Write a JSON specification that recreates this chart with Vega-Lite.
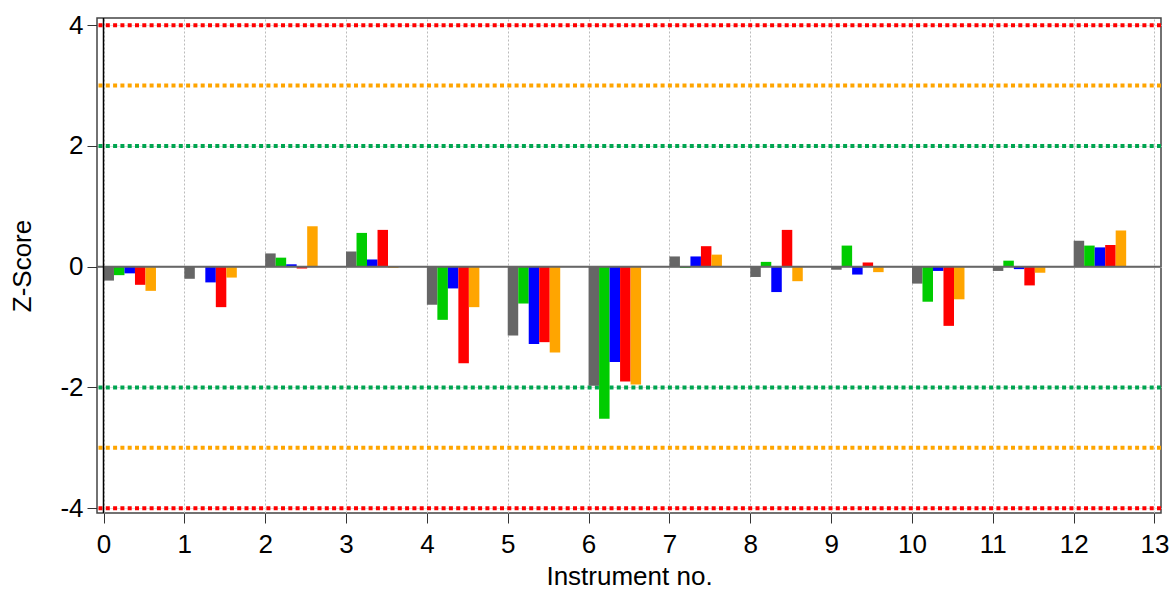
{
  "$schema": "https://vega.github.io/schema/vega-lite/v6.json",
  "width": 1064,
  "height": 495,
  "autosize": {"type": "none"},
  "padding": {"left": 97, "top": 18, "right": 9, "bottom": 77},
  "background": "white",
  "config": {
    "font": "Liberation Sans",
    "view": {"stroke": "#444", "strokeWidth": 1.5}
  },
  "datasets": {
    "scores": [
      {"inst": 0, "s": "s1", "z": -0.23}, {"inst": 0, "s": "s2", "z": -0.14}, {"inst": 0, "s": "s3", "z": -0.11}, {"inst": 0, "s": "s4", "z": -0.30}, {"inst": 0, "s": "s5", "z": -0.40},
      {"inst": 1, "s": "s1", "z": -0.20}, {"inst": 1, "s": "s2", "z": 0.0}, {"inst": 1, "s": "s3", "z": -0.26}, {"inst": 1, "s": "s4", "z": -0.67}, {"inst": 1, "s": "s5", "z": -0.18},
      {"inst": 2, "s": "s1", "z": 0.22}, {"inst": 2, "s": "s2", "z": 0.15}, {"inst": 2, "s": "s3", "z": 0.04}, {"inst": 2, "s": "s4", "z": -0.03}, {"inst": 2, "s": "s5", "z": 0.67},
      {"inst": 3, "s": "s1", "z": 0.25}, {"inst": 3, "s": "s2", "z": 0.56}, {"inst": 3, "s": "s3", "z": 0.12}, {"inst": 3, "s": "s4", "z": 0.61}, {"inst": 3, "s": "s5", "z": -0.02},
      {"inst": 4, "s": "s1", "z": -0.63}, {"inst": 4, "s": "s2", "z": -0.88}, {"inst": 4, "s": "s3", "z": -0.36}, {"inst": 4, "s": "s4", "z": -1.60}, {"inst": 4, "s": "s5", "z": -0.67},
      {"inst": 5, "s": "s1", "z": -1.14}, {"inst": 5, "s": "s2", "z": -0.61}, {"inst": 5, "s": "s3", "z": -1.28}, {"inst": 5, "s": "s4", "z": -1.25}, {"inst": 5, "s": "s5", "z": -1.42},
      {"inst": 6, "s": "s1", "z": -1.97}, {"inst": 6, "s": "s2", "z": -2.52}, {"inst": 6, "s": "s3", "z": -1.58}, {"inst": 6, "s": "s4", "z": -1.90}, {"inst": 6, "s": "s5", "z": -1.95},
      {"inst": 7, "s": "s1", "z": 0.17}, {"inst": 7, "s": "s2", "z": -0.02}, {"inst": 7, "s": "s3", "z": 0.17}, {"inst": 7, "s": "s4", "z": 0.34}, {"inst": 7, "s": "s5", "z": 0.20},
      {"inst": 8, "s": "s1", "z": -0.17}, {"inst": 8, "s": "s2", "z": 0.08}, {"inst": 8, "s": "s3", "z": -0.42}, {"inst": 8, "s": "s4", "z": 0.61}, {"inst": 8, "s": "s5", "z": -0.24},
      {"inst": 9, "s": "s1", "z": -0.05}, {"inst": 9, "s": "s2", "z": 0.35}, {"inst": 9, "s": "s3", "z": -0.13}, {"inst": 9, "s": "s4", "z": 0.07}, {"inst": 9, "s": "s5", "z": -0.09},
      {"inst": 10, "s": "s1", "z": -0.28}, {"inst": 10, "s": "s2", "z": -0.58}, {"inst": 10, "s": "s3", "z": -0.07}, {"inst": 10, "s": "s4", "z": -0.98}, {"inst": 10, "s": "s5", "z": -0.54},
      {"inst": 11, "s": "s1", "z": -0.07}, {"inst": 11, "s": "s2", "z": 0.10}, {"inst": 11, "s": "s3", "z": -0.04}, {"inst": 11, "s": "s4", "z": -0.31}, {"inst": 11, "s": "s5", "z": -0.10},
      {"inst": 12, "s": "s1", "z": 0.43}, {"inst": 12, "s": "s2", "z": 0.35}, {"inst": 12, "s": "s3", "z": 0.32}, {"inst": 12, "s": "s4", "z": 0.36}, {"inst": 12, "s": "s5", "z": 0.60}
    ],
    "lim4": [{"z": 4}, {"z": -4}],
    "lim3": [{"z": 3}, {"z": -3}],
    "lim2": [{"z": 2}, {"z": -2}]
  },
  "layer": [
    {
      "data": {"name": "lim2"},
      "mark": {"type": "rule", "color": "#00A550", "strokeWidth": 4, "strokeDash": [4, 3.3], "strokeCap": "butt"},
      "encoding": {
        "y": {
          "field": "z", "type": "quantitative",
          "scale": {"domain": [-4.08, 4.12], "nice": false, "zero": false},
          "axis": {
            "title": "Z-Score",
            "values": [-4, -2, 0, 2, 4],
            "labelExpr": "'' + datum.value",
            "grid": true, "gridColor": "#dddddd", "gridWidth": 1,
            "domain": false,
            "tickSize": 10, "tickColor": "#333333", "tickWidth": 1,
            "labelFontSize": 26, "labelColor": "black", "labelPadding": 4,
            "titleFontSize": 26, "titleFontWeight": "normal", "titleColor": "black",
            "titleX": -75, "titleY": 247.5, "titleAngle": 270, "titleAlign": "center", "titleBaseline": "middle"
          }
        }
      }
    },
    {
      "data": {"name": "lim3"},
      "mark": {"type": "rule", "color": "#FFA500", "strokeWidth": 4, "strokeDash": [4, 3.3], "strokeCap": "butt"},
      "encoding": {"y": {"field": "z", "type": "quantitative"}}
    },
    {
      "data": {"name": "lim4"},
      "mark": {"type": "rule", "color": "#FF0000", "strokeWidth": 4, "strokeDash": [4, 3.3], "strokeCap": "butt"},
      "encoding": {"y": {"field": "z", "type": "quantitative"}}
    },
    {
      "data": {"name": "scores"},
      "mark": {"type": "bar"},
      "encoding": {
        "x": {
          "field": "inst", "type": "ordinal",
          "scale": {"domain": [0, 1, 2, 3, 4, 5, 6, 7, 8, 9, 10, 11, 12], "paddingInner": 0, "paddingOuter": 0.08},
          "axis": null
        },
        "xOffset": {
          "field": "s", "type": "nominal",
          "scale": {"domain": ["s1", "s2", "s3", "s4", "s5", "gap1", "gap2"], "paddingInner": 0, "paddingOuter": 0.35, "align": 0}
        },
        "y": {"field": "z", "type": "quantitative"},
        "color": {
          "field": "s", "type": "nominal",
          "scale": {"domain": ["s1", "s2", "s3", "s4", "s5"], "range": ["#666666", "#00CC00", "#0000FF", "#FF0000", "#FFA500"]},
          "legend": null
        }
      }
    },
    {
      "data": {"values": [{"z": 0}]},
      "mark": {"type": "rule", "color": "#666666", "strokeWidth": 2},
      "encoding": {"y": {"field": "z", "type": "quantitative"}}
    },
    {
      "data": {"values": [{"inst": 0}]},
      "mark": {"type": "rule", "color": "black", "strokeWidth": 1.5},
      "encoding": {
        "x": {
          "field": "inst", "type": "quantitative",
          "scale": {"domain": [-0.0804, 13.0804], "nice": false, "zero": false},
          "axis": {
            "title": "Instrument no.",
            "values": [0, 1, 2, 3, 4, 5, 6, 7, 8, 9, 10, 11, 12, 13],
            "format": "d",
            "grid": true, "gridColor": "#bbbbbb", "gridDash": [2, 2], "gridWidth": 1,
            "domain": false,
            "tickSize": 10, "tickColor": "#333333", "tickWidth": 1,
            "labelFontSize": 26, "labelColor": "black", "labelPadding": 8,
            "titleFontSize": 26, "titleFontWeight": "normal", "titleColor": "black", "titlePadding": 6
          }
        }
      }
    }
  ],
  "resolve": {"scale": {"x": "independent"}}
}
